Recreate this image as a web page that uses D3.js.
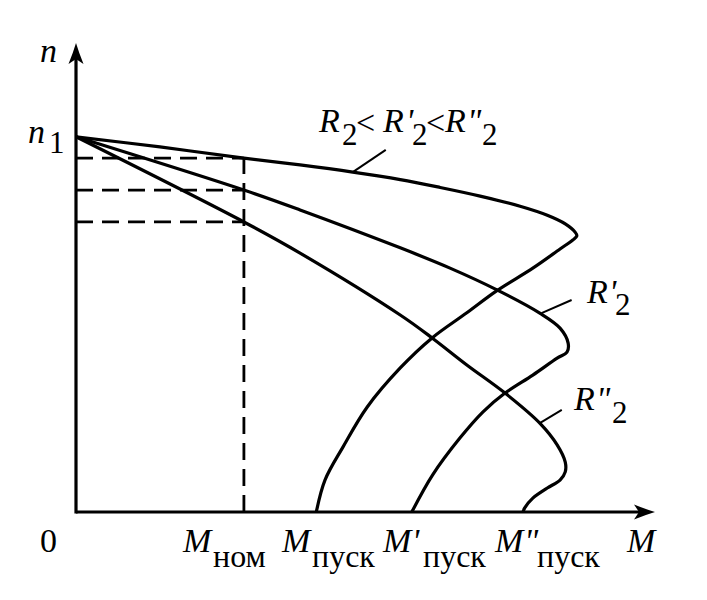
<!DOCTYPE html>
<html><head><meta charset="utf-8">
<script src="https://cdn.jsdelivr.net/npm/d3@7"></script>
<style>
body{margin:0;background:#fff}
svg{display:block}
</style>
</head><body>
<svg id="chart" width="707" height="600"></svg>
<script>
// ---------- data (torque M, speed n; n1 = 1) ----------
const curveR2_M  = [0, 1.45, 2.90, 3.87, 4.78, 5.60, 6.29, 6.98, 7.67, 8.14, 8.45, 8.62, 8.65, 8.58, 8.36, 7.89, 7.27, 6.75, 6.15, 5.60, 5.03, 4.61, 4.30, 4.15];
const curveR2_n  = [1.00, 0.973, 0.943, 0.925, 0.906, 0.886, 0.865, 0.842, 0.815, 0.791, 0.768, 0.746, 0.736, 0.725, 0.701, 0.650, 0.590, 0.531, 0.464, 0.384, 0.280, 0.173, 0.085, 0];
const curveR2p_M = [0, 2.90, 3.87, 5.60, 6.46, 7.27, 8.01, 8.36, 8.50, 8.48, 8.31, 7.89, 7.41, 7.03, 6.63, 6.16, 5.80];
const curveR2p_n = [1.00, 0.858, 0.805, 0.704, 0.650, 0.592, 0.530, 0.490, 0.450, 0.426, 0.410, 0.365, 0.317, 0.267, 0.197, 0.099, 0];
const curveR2pp_M = [0, 2.90, 3.87, 5.60, 6.15, 6.75, 7.41, 8.01, 8.31, 8.45, 8.45, 8.36, 8.14, 7.89, 7.75, 7.72];
const curveR2pp_n = [1.00, 0.773, 0.690, 0.525, 0.464, 0.392, 0.317, 0.237, 0.179, 0.133, 0.107, 0.085, 0.064, 0.037, 0.011, 0];
const M_nom = 2.90;
const nomSpeeds = [0.943, 0.858, 0.773];
const xTickLabels = [
  {main:"M", prime:"",   sub:"ном"},
  {main:"M", prime:"",   sub:"пуск"},
  {main:"M", prime:"'",  sub:"пуск"},
  {main:"M", prime:"\"", sub:"пуск"}
];

// ---------- layout ----------
const svg = d3.select("#chart");
const x = d3.scaleLinear().domain([0, 10]).range([76, 655]);
const y = d3.scaleLinear().domain([0, 1.25]).range([512, 43]);
const ink = "#000";
const FONT = "'Liberation Serif', 'Times New Roman', serif";

// dashed guide lines
const g = svg.append("g");
nomSpeeds.forEach(v => {
  g.append("line").attr("x1", x(0)).attr("x2", x(M_nom)).attr("y1", y(v)).attr("y2", y(v))
    .attr("stroke", ink).attr("stroke-width", 2.8).attr("stroke-dasharray", "17,9");
});
g.append("line").attr("x1", x(M_nom)).attr("x2", x(M_nom)).attr("y1", y(0)).attr("y2", y(d3.max(nomSpeeds)))
  .attr("stroke", ink).attr("stroke-width", 2.8).attr("stroke-dasharray", "17,9");

// curves
const line = d3.line().x(d => x(d[0])).y(d => y(d[1])).curve(d3.curveCatmullRom.alpha(0.5));
[[curveR2_M, curveR2_n], [curveR2p_M, curveR2p_n], [curveR2pp_M, curveR2pp_n]].forEach(([ms, ns]) => {
  svg.append("path").datum(ms.map((m, i) => [m, ns[i]])).attr("d", line)
    .attr("fill", "none").attr("stroke", ink).attr("stroke-width", 3.2).attr("stroke-linejoin", "round");
});

// axes
svg.append("line").attr("x1", x(0)).attr("y1", y(0)).attr("x2", x(10) - 14).attr("y2", y(0))
  .attr("stroke", ink).attr("stroke-width", 3.2);
svg.append("line").attr("x1", x(0)).attr("y1", y(0) + 1.6).attr("x2", x(0)).attr("y2", y(1.25) + 14)
  .attr("stroke", ink).attr("stroke-width", 3.2);
// arrowheads
const ax = x(10), ay = y(0);
svg.append("path").attr("d", `M${ax},${ay} Q${ax-10},${ay-3} ${ax-21},${ay-7.5} L${ax-16},${ay} L${ax-21},${ay+7.5} Q${ax-10},${ay+3} ${ax},${ay} Z`).attr("fill", ink);
const yx = x(0), yy = y(1.25);
svg.append("path").attr("d", `M${yx},${yy} Q${yx-3},${yy+10} ${yx-7.5},${yy+21} L${yx},${yy+16} L${yx+7.5},${yy+21} Q${yx+3},${yy+10} ${yx},${yy} Z`).attr("fill", ink);

// leader lines
const leaders = [[4.78, 0.906, 5.35, 0.965], [8.04, 0.530, 8.56, 0.565], [8.01, 0.237, 8.39, 0.272]];
leaders.forEach(l => svg.append("line").attr("x1", x(l[0])).attr("y1", y(l[1])).attr("x2", x(l[2])).attr("y2", y(l[3]))
  .attr("stroke", ink).attr("stroke-width", 2));

// text helper
function t(str, px, py, size, italic) {
  svg.append("text").attr("x", px).attr("y", py).attr("font-size", size)
    .attr("font-family", FONT).attr("fill", ink)
    .attr("font-style", italic ? "italic" : "normal").text(str);
}
const F = 34, S = 31;
// axis names
t("n", 40, 62, F, true);
t("M", 627, 552, F, true);
t("0", 40, 552, F, false);
// n1
t("n", 28, 143, F, true);
t("1", 49, 153, S, false);
// x tick labels
const tickX = [183, 282, 383, 495];
const subX  = [213, 312, 423, 537];
xTickLabels.forEach((d, i) => {
  t(d.main, tickX[i], 552, F, true);
  if (d.prime) t(d.prime, tickX[i] + 29, 552, F, true);
  t(d.sub, subX[i], 567, 32, false);
});
// curve labels
t("R", 319, 132, F, true); t("2", 342, 145, S, false);
t("<", 356, 134, 34, false);
t("R", 383, 132, F, true); t("'", 406, 132, F, true); t("2", 412, 145, S, false);
t("<", 426, 134, 34, false);
t("R", 445, 132, F, true); t("\"", 467, 132, F, true); t("2", 482, 145, S, false);

t("R", 587, 303, F, true); t("'", 609, 303, F, true); t("2", 615, 315, S, false);
t("R", 574, 410, F, true); t("\"", 596, 410, F, true); t("2", 612, 423, S, false);
</script>
</body></html>
